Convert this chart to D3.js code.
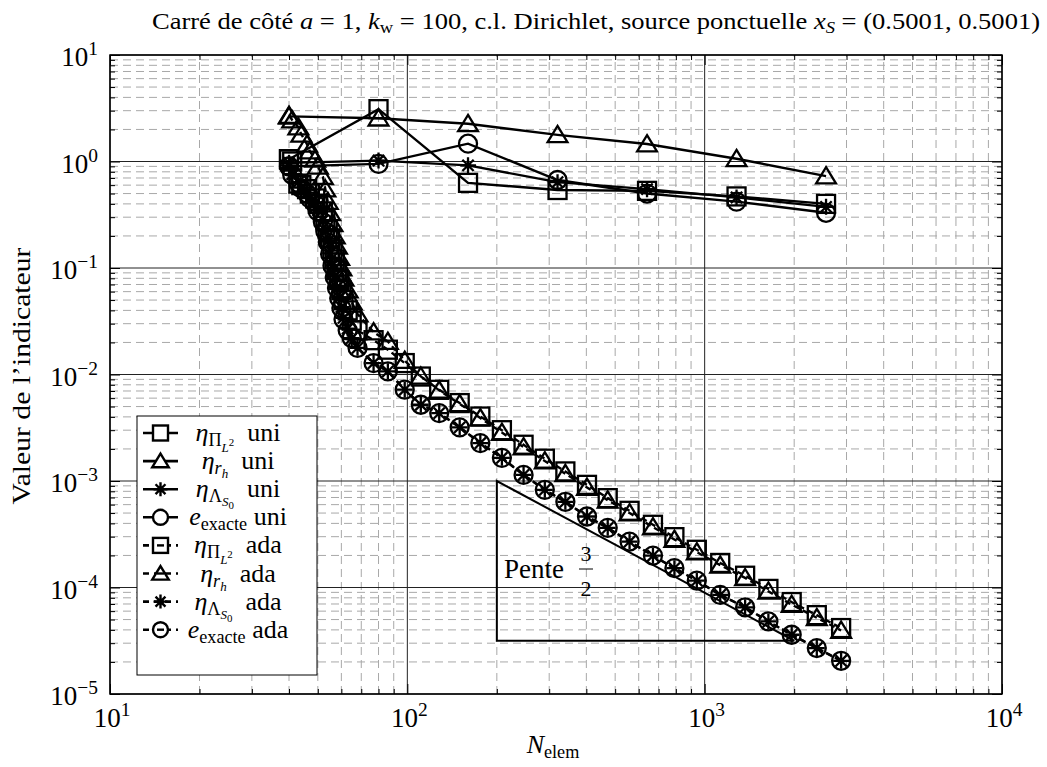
<!DOCTYPE html>
<html>
<head>
<meta charset="utf-8">
<script src="https://cdn.jsdelivr.net/npm/d3@7"></script>
<style>
  body { margin: 0; background: #fff; }
</style>
</head>
<body>
<div id="container"></div>
<script>
// CONSTANTS AND GLOBALS
const width = 1047,
  height = 767,
  margin = { top: 55, bottom: 73, left: 110, right: 45 };

// DATA
// maillages uniformes
const nUni = [40, 80, 160, 320, 640, 1280, 2560];
const piUni = [1.05, 3.1, 0.63, 0.54, 0.53, 0.47, 0.40];
const rhUni = [2.65, 2.55, 2.26, 1.78, 1.46, 1.06, 0.73];
const lamUni = [0.97, 1.02, 0.92, 0.64, 0.55, 0.46, 0.375];
const exUni = [0.9, 0.95, 1.47, 0.67, 0.5, 0.42, 0.33];

// maillages adaptatifs
const nAda = [40, 41, 43, 44, 46, 47, 49, 50, 52, 53, 54, 55, 56, 57, 58, 59, 60, 61, 63, 65,
  68, 77, 86, 98, 111, 128, 150, 176, 208, 246, 290, 340, 402, 472, 559, 670, 791, 941,
  1128, 1368, 1638, 1962, 2383, 2877];
const piAda = [1.05, 1.0, 0.62, 0.6, 0.55, 0.5, 0.45, 0.4, 0.34, 0.28, 0.23, 0.19, 0.15, 0.12,
  0.095, 0.077, 0.062, 0.05, 0.04, 0.032, 0.026, 0.021, 0.0171, 0.0128, 0.00957, 0.00718,
  0.00539, 0.00403, 0.0030, 0.00219, 0.00162, 0.00123, 0.00092, 0.00069, 0.000525,
  0.000388, 0.000297, 0.000226, 0.00017, 0.000129, 0.000097, 0.000073, 0.000055, 0.0000416];
const rhAda = [2.7, 2.45, 2.1, 1.8, 1.45, 1.25, 1.05, 0.9, 0.72, 0.55, 0.42, 0.33, 0.26, 0.2,
  0.16, 0.125, 0.1, 0.08, 0.062, 0.048, 0.037, 0.025, 0.0204, 0.0135, 0.0096, 0.0071,
  0.0053, 0.0039, 0.00285, 0.00208, 0.00154, 0.00117, 0.00087, 0.00066, 0.0005,
  0.000369, 0.000282, 0.000215, 0.000162, 0.000123, 0.000092, 0.000069, 0.000052, 0.0000395];
const lamAda = [0.92, 0.76, 0.64, 0.57, 0.51, 0.46, 0.41, 0.35, 0.28, 0.225, 0.178, 0.137,
  0.106, 0.083, 0.066, 0.053, 0.043, 0.034, 0.027, 0.022, 0.0178, 0.0128, 0.0107, 0.0072,
  0.0052, 0.00434, 0.00319, 0.00227, 0.00165, 0.00114, 0.000826, 0.000638, 0.000464,
  0.000363, 0.00027, 0.000199, 0.000152, 0.000116, 0.0000853, 0.0000652, 0.000048,
  0.000036, 0.000027, 0.0000205];
const exAda = [0.9, 0.75, 0.63, 0.56, 0.5, 0.45, 0.4, 0.34, 0.27, 0.22, 0.175, 0.135, 0.105,
  0.082, 0.065, 0.052, 0.042, 0.033, 0.026, 0.022, 0.0178, 0.0128, 0.0107, 0.0072, 0.0052,
  0.00434, 0.00319, 0.00227, 0.00165, 0.00114, 0.000826, 0.000638, 0.000464, 0.000363,
  0.00027, 0.000199, 0.000152, 0.000116, 0.0000853, 0.0000652, 0.000048, 0.000036,
  0.000027, 0.0000205];

// triangle de pente 3/2
const penteN = [200, 2000];
const penteV = [1e-3, Math.pow(10, -4.5)];

const xMajor = [10, 100, 1000, 10000];
const yMajor = [1e-5, 1e-4, 1e-3, 1e-2, 1e-1, 1, 10];
const xExp = ["1", "2", "3", "4"];
const yExp = ["\u22125", "\u22124", "\u22123", "\u22122", "\u22121", "0", "1"];

const series = [
  { n: nUni, v: piUni, m: "square", dash: null },
  { n: nUni, v: rhUni, m: "triangle", dash: null },
  { n: nUni, v: lamUni, m: "star", dash: null },
  { n: nUni, v: exUni, m: "circle", dash: null },
  { n: nAda, v: piAda, m: "square", dash: "6,4" },
  { n: nAda, v: rhAda, m: "triangle", dash: "6,4" },
  { n: nAda, v: lamAda, m: "star", dash: "6,4" },
  { n: nAda, v: exAda, m: "circle", dash: "6,4" }
];

// legend labels: [text, {i: italic, s: scale, o: baseline offset}]
const legendLabels = [
  [["η", { i: 1 }], ["Π", { s: .7, o: 5 }], ["L", { i: 1, s: .5, o: 11 }], ["2", { s: .42, o: 5 }], ["  uni"]],
  [["η", { i: 1 }], ["r", { i: 1, s: .7, o: 5 }], ["h", { i: 1, s: .5, o: 9 }], ["  uni"]],
  [["η", { i: 1 }], ["Λ", { s: .7, o: 5 }], ["S", { i: 1, s: .5, o: 9 }], ["0", { s: .42, o: 12 }], ["  uni"]],
  [["e", { i: 1 }], ["exacte", { s: .7, o: 5 }], [" uni"]],
  [["η", { i: 1 }], ["Π", { s: .7, o: 5 }], ["L", { i: 1, s: .5, o: 11 }], ["2", { s: .42, o: 5 }], ["  ada"]],
  [["η", { i: 1 }], ["r", { i: 1, s: .7, o: 5 }], ["h", { i: 1, s: .5, o: 9 }], ["  ada"]],
  [["η", { i: 1 }], ["Λ", { s: .7, o: 5 }], ["S", { i: 1, s: .5, o: 9 }], ["0", { s: .42, o: 12 }], ["  ada"]],
  [["e", { i: 1 }], ["exacte", { s: .7, o: 5 }], [" ada"]]
];

// + SCALES
const xScale = d3.scaleLog()
  .domain([10, 1e4])
  .range([margin.left, width - margin.right]);

const yScale = d3.scaleLog()
  .domain([1e-5, 10])
  .range([height - margin.bottom, margin.top]);

const x0 = margin.left, x1 = width - margin.right;
const y0 = height - margin.bottom, y1 = margin.top;

// CREATE SVG ELEMENT
const svg = d3.select("#container")
  .append("svg")
  .attr("width", width)
  .attr("height", height)
  .attr("font-family", "'Liberation Serif', 'DejaVu Serif', serif");

// helper: text with sub/superscripts
function mathText(sel, segs, base) {
  let prev = 0;
  segs.forEach(([t, o = {}]) => {
    const off = o.o || 0;
    sel.append("tspan")
      .attr("dy", off - prev)
      .attr("font-style", o.i ? "italic" : "normal")
      .attr("font-size", (o.s || 1) * base)
      .style("white-space", "pre")
      .text(t);
    prev = off;
  });
  return sel;
}

// GRID
const xMinor = [], yMinor = [];
[10, 100, 1000].forEach(d => d3.range(2, 10).forEach(k => xMinor.push(d * k)));
[1e-5, 1e-4, 1e-3, 1e-2, 1e-1, 1].forEach(d => d3.range(2, 10).forEach(k => yMinor.push(d * k)));

const grid = svg.append("g");
grid.selectAll(".xminor").data(xMinor).join("line")
  .attr("x1", d => xScale(d)).attr("x2", d => xScale(d))
  .attr("y1", y0).attr("y2", y1)
  .attr("stroke", "#a8a8a8").attr("stroke-dasharray", "8,5").attr("stroke-width", 1);
grid.selectAll(".yminor").data(yMinor).join("line")
  .attr("y1", d => yScale(d)).attr("y2", d => yScale(d))
  .attr("x1", x0).attr("x2", x1)
  .attr("stroke", "#a8a8a8").attr("stroke-dasharray", "8,5").attr("stroke-width", 1);
grid.selectAll(".xmajor").data(xMajor).join("line")
  .attr("x1", d => xScale(d)).attr("x2", d => xScale(d))
  .attr("y1", y0).attr("y2", y1)
  .attr("stroke", "#222").attr("stroke-width", 1);
grid.selectAll(".ymajor").data(yMajor).join("line")
  .attr("y1", d => yScale(d)).attr("y2", d => yScale(d))
  .attr("x1", x0).attr("x2", x1)
  .attr("stroke", "#222").attr("stroke-width", 1);

// BUILD AND CALL AXES (ticks only, pointing inward)
function tickAxis(axis, vals, size, transform) {
  svg.append("g")
    .attr("transform", transform)
    .call(axis.tickValues(vals).tickSizeInner(-size).tickSizeOuter(0).tickFormat(""))
    .call(g => g.select(".domain").remove())
    .call(g => g.selectAll("line").attr("stroke", "#000"));
}
tickAxis(d3.axisBottom(xScale), xMajor, 10, `translate(0,${y0})`);
tickAxis(d3.axisBottom(xScale), xMinor, 5, `translate(0,${y0})`);
tickAxis(d3.axisTop(xScale), xMajor, 10, `translate(0,${y1})`);
tickAxis(d3.axisTop(xScale), xMinor, 5, `translate(0,${y1})`);
tickAxis(d3.axisLeft(yScale), yMajor, 10, `translate(${x0},0)`);
tickAxis(d3.axisLeft(yScale), yMinor, 5, `translate(${x0},0)`);
tickAxis(d3.axisRight(yScale), yMajor, 10, `translate(${x1},0)`);
tickAxis(d3.axisRight(yScale), yMinor, 5, `translate(${x1},0)`);

// tick labels 10^k
xMajor.forEach((d, i) => {
  const t = svg.append("text")
    .attr("x", xScale(d) + 2).attr("y", y0 + 33)
    .attr("text-anchor", "middle").attr("font-size", 27);
  mathText(t, [["10"], [xExp[i], { s: .72, o: -11 }]], 27);
});
yMajor.forEach((d, i) => {
  const t = svg.append("text")
    .attr("x", 98).attr("y", yScale(d) + 11)
    .attr("text-anchor", "end").attr("font-size", 27);
  mathText(t, [["10"], [yExp[i], { s: .72, o: -11 }]], 27);
});

// axes labels and title
const xl = svg.append("text")
  .attr("x", 553).attr("y", 753)
  .attr("text-anchor", "middle").attr("font-size", 26);
mathText(xl, [["N", { i: 1 }], ["elem", { s: .7, o: 5 }]], 26);

svg.append("text")
  .attr("transform", `translate(30,376) rotate(-90)`)
  .attr("text-anchor", "middle").attr("font-size", 26)
  .attr("textLength", 257).attr("lengthAdjust", "spacingAndGlyphs")
  .text("Valeur de l\u2019indicateur");

const title = svg.append("text")
  .attr("x", 152).attr("y", 29)
  .attr("font-size", 23)
  .attr("textLength", 888).attr("lengthAdjust", "spacingAndGlyphs");
mathText(title, [["Carré de côté "], ["a", { i: 1 }], [" = 1, "], ["k", { i: 1 }], ["w", { s: .7, o: 4 }],
  [" = 100, c.l. Dirichlet, source ponctuelle "], ["x", { i: 1 }], ["S", { i: 1, s: .7, o: 4 }],
  [" = (0.5001, 0.5001)"]], 23);

// axes box
svg.append("rect")
  .attr("x", x0).attr("y", y1)
  .attr("width", x1 - x0).attr("height", y0 - y1)
  .attr("fill", "none").attr("stroke", "#000").attr("stroke-width", 1.5);

// MARKERS
function marker(g, type, cx, cy, s) {
  if (type === "square") {
    g.append("rect").attr("x", cx - s / 2).attr("y", cy - s / 2)
      .attr("width", s).attr("height", s);
  } else if (type === "circle") {
    g.append("circle").attr("cx", cx).attr("cy", cy).attr("r", s / 2);
  } else if (type === "triangle") {
    const h = s * 0.9;
    g.append("path").attr("d",
      `M${cx},${cy - h * 0.55}L${cx + s * 0.55},${cy + h * 0.45}L${cx - s * 0.55},${cy + h * 0.45}Z`);
  } else if (type === "star") {
    const r = s * 0.5;
    const p = [0, 45, 90, 135].map(a => {
      const c = Math.cos(a * Math.PI / 180) * r, sn = Math.sin(a * Math.PI / 180) * r;
      return `M${cx - c},${cy - sn}L${cx + c},${cy + sn}`;
    }).join("");
    g.append("path").attr("d", p);
  }
}

// CREATE LINES
const line = d3.line()
  .x(d => xScale(d[0]))
  .y(d => yScale(d[1]));

const plot = svg.append("g");
series.forEach(s => {
  const pts = s.n.map((n, i) => [n, s.v[i]]);
  plot.append("path")
    .datum(pts)
    .attr("fill", "none")
    .attr("stroke", "#000")
    .attr("stroke-width", 2.4)
    .attr("stroke-dasharray", s.dash)
    .attr("d", line);
  const mg = plot.append("g")
    .attr("fill", "none").attr("stroke", "#000").attr("stroke-width", 2.3);
  pts.forEach(p => marker(mg, s.m, xScale(p[0]), yScale(p[1]), s.m === "star" ? 16 : 18));
});

// pente 3/2
svg.append("path")
  .attr("d", `M${xScale(penteN[0])},${yScale(penteV[0])}` +
    `L${xScale(penteN[0])},${yScale(penteV[1])}` +
    `L${xScale(penteN[1])},${yScale(penteV[1])}Z`)
  .attr("fill", "none").attr("stroke", "#000").attr("stroke-width", 2);

svg.append("text")
  .attr("x", 504).attr("y", 578)
  .attr("font-size", 27)
  .text("Pente");
svg.append("text")
  .attr("x", 586).attr("y", 561).attr("text-anchor", "middle")
  .attr("font-size", 22).text("3");
svg.append("line")
  .attr("x1", 579).attr("x2", 593).attr("y1", 569).attr("y2", 569)
  .attr("stroke", "#000").attr("stroke-width", 1);
svg.append("text")
  .attr("x", 586).attr("y", 596).attr("text-anchor", "middle")
  .attr("font-size", 22).text("2");

// LEGEND
const lg = svg.append("g");
lg.append("rect")
  .attr("x", 137).attr("y", 416)
  .attr("width", 180).attr("height", 259)
  .attr("fill", "#fff").attr("stroke", "#000").attr("stroke-width", 1);

series.forEach((s, i) => {
  const ly = 433 + i * 28.1;
  lg.append("line")
    .attr("x1", 143).attr("x2", 178).attr("y1", ly).attr("y2", ly)
    .attr("stroke", "#000").attr("stroke-width", 2.6)
    .attr("stroke-dasharray", s.dash ? "6,5" : null);
  const mg = lg.append("g")
    .attr("fill", "#fff").attr("stroke", "#000").attr("stroke-width", 2.4);
  marker(mg, s.m, 160.5, ly, s.m === "star" ? 14 : 15);
  if (s.dash) {
    mg.append("line").attr("x1", 157).attr("x2", 164).attr("y1", ly).attr("y2", ly);
  }
  const t = lg.append("text")
    .attr("x", 238).attr("y", ly + 8)
    .attr("text-anchor", "middle").attr("font-size", 26);
  mathText(t, legendLabels[i], 26);
});
</script>
</body>
</html>
